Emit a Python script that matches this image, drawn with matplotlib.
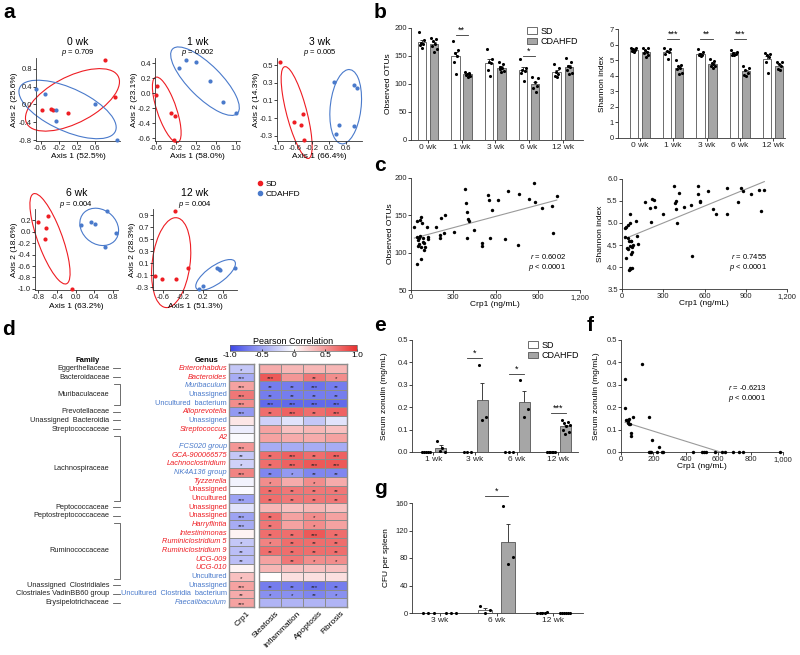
import numpy as np
import matplotlib.pyplot as plt
import matplotlib.transforms as mtrans
from matplotlib.patches import Ellipse, Rectangle
from matplotlib.lines import Line2D
from matplotlib.colors import LinearSegmentedColormap, Normalize
from matplotlib.cm import ScalarMappable

plt.rcParams['font.family'] = ['Liberation Sans', 'DejaVu Sans']
plt.rcParams['font.size'] = 6
plt.rcParams['mathtext.fontset'] = 'custom'
plt.rcParams['mathtext.it'] = 'Liberation Sans:italic'
plt.rcParams['mathtext.rm'] = 'Liberation Sans'
plt.rcParams['axes.linewidth'] = 0.6
plt.rcParams['axes.edgecolor'] = '#333333'

RED = '#ee1d23'
BLUE = '#4a7acb'
W, H = 800, 655

# ---------------- data: a (PCoA) ----------------
pcoa_weeks = ["0 wk", "1 wk", "3 wk", "6 wk", "12 wk"]
pcoa_p = ["0.709", "0.002", "0.005", "0.004", "0.004"]
pcoa_ax1 = ["52.5", "58.0", "66.4", "63.2", "51.3"]
pcoa_ax2 = ["25.6", "23.1", "14.3", "18.6", "28.3"]

sd_x = [[0.83, 1.03, -0.56, -0.36, -0.32, 0.0],
        [-0.58, -0.61, -0.30, -0.23, -0.24],
        [-0.94, -0.63, -0.45, -0.40, -0.38],
        [-0.79, -0.59, -0.62, -0.64, -0.07],
        [-0.36, -0.11, -0.76, -0.63, -0.35]]
sd_y = [[0.99, 0.16, -0.12, -0.11, -0.12, -0.19],
        [0.10, -0.02, -0.26, -0.30, -0.63],
        [0.53, -0.14, -0.18, -0.05, -0.35],
        [0.17, 0.27, 0.07, -0.12, -1.0],
        [0.96, 0.02, -0.12, -0.17, -0.16]]
cd_x = [[-0.69, -0.50, -0.27, -0.25, 0.60, 1.08],
        [-0.14, -0.01, 0.19, 0.49, 0.75, 1.01],
        [0.32, 0.78, 0.85, 0.43, 0.78, 0.37],
        [0.12, 0.32, 0.42, 0.67, 0.85, 0.63],
        [0.12, 0.21, 0.49, 0.53, 0.55, 0.84]]
cd_y = [[0.35, 0.24, -0.12, -0.37, 0.02, -0.80],
        [0.34, 0.44, 0.41, 0.16, -0.12, -0.27],
        [0.31, 0.27, 0.24, -0.18, -0.19, -0.28],
        [0.12, 0.17, 0.14, 0.37, -0.02, -0.26],
        [-0.34, -0.28, 0.02, 0.0, -0.01, 0.02]]

# ---------------- data: b (alpha diversity) ----------------
weeks_b = ["0 wk", "1 wk", "3 wk", "6 wk", "12 wk"]
otu_sd = [[192, 178, 174, 172, 170, 165], [176, 160, 155, 150, 140, 118],
          [162, 145, 140, 138, 125, 115], [145, 128, 125, 123, 120, 106],
          [135, 128, 122, 118, 115, 112]]
otu_cd = [[183, 180, 176, 172, 168, 162, 158], [121, 119, 118, 117, 116, 115, 113],
          [140, 135, 130, 128, 126, 124, 122], [112, 111, 103, 97, 92, 86],
          [147, 140, 133, 130, 125, 120, 118]]
sha_sd = [[5.8, 5.75, 5.7, 5.65, 5.6, 5.5], [5.8, 5.7, 5.6, 5.5, 5.4, 5.1],
          [5.7, 5.5, 5.4, 5.35, 5.3, 5.25], [5.65, 5.5, 5.45, 5.4, 5.35, 5.3],
          [5.45, 5.4, 5.35, 5.2, 4.9, 4.2]]
sha_cd = [[5.8, 5.75, 5.65, 5.55, 5.45, 5.35, 5.2], [5.0, 4.7, 4.6, 4.5, 4.4, 4.2, 4.1],
          [5.1, 4.95, 4.8, 4.75, 4.65, 4.6, 4.5], [4.6, 4.5, 4.35, 4.2, 4.05, 3.95],
          [4.9, 4.85, 4.75, 4.6, 4.45, 4.35]]
otu_sig = [(1, "**", 188), (3, "*", 150)]
sha_sig = [(1, "***", 6.35), (2, "**", 6.35), (3, "***", 6.35)]

# ---------------- data: c (correlation with Crp1) ----------------
crp_otu = [24, 45, 40, 48, 57, 69, 64, 76, 88, 60, 52, 64, 71, 83, 93, 95, 69, 45, 100, 112,
           119, 124, 174, 207, 214, 235, 242, 207, 302, 385, 388, 400, 405, 410, 400, 450,
           505, 505, 550, 552, 560, 575, 620, 665, 690, 760, 765, 840, 870, 880, 930, 1000,
           1005, 1035]
otu_val = [135, 143, 121, 117, 119, 148, 144, 140, 120, 112, 109, 122, 108, 114, 104, 113, 92,
           85, 108, 135, 121, 118, 135, 124, 146, 126, 150, 119, 128, 185, 167, 154, 145, 142,
           120, 130, 113, 109, 177, 170, 120, 157, 171, 118, 182, 110, 179, 172, 193, 168, 160,
           163, 127, 176]
crp_sha = [20, 30, 45, 55, 60, 25, 40, 50, 65, 70, 35, 45, 80, 55, 75, 65, 30, 60, 55, 70, 50,
           65, 110, 115, 100, 170, 205, 210, 215, 235, 240, 300, 380, 382, 390, 395, 398, 412,
           450, 505, 510, 550, 555, 565, 570, 625, 665, 685, 760, 765, 840, 865, 880, 935,
           1000, 1010, 1035]
sha_val = [4.88, 4.9, 4.95, 5.0, 5.2, 4.68, 4.65, 4.6, 4.58, 4.45, 4.43, 4.42, 4.5, 4.47,
           4.33, 4.3, 4.2, 3.98, 3.95, 3.97, 3.93, 4.6, 4.7, 4.52, 5.05, 5.47, 5.33, 5.03, 5.55,
           5.52, 5.37, 5.21, 5.85, 5.45, 5.5, 5.32, 5.0, 5.68, 5.37, 5.4, 4.25, 5.67, 5.85,
           5.47, 5.5, 5.72, 5.32, 5.2, 5.2, 5.8, 5.48, 5.8, 5.73, 5.66, 5.75, 5.27, 5.74]

# ---------------- data: d (heatmap) ----------------
families = ["Eggerthellaceae", "Bacteroidaceae", "Muribaculaceae", "Prevotellaceae",
            "Unassigned  Bacteroidia", "Streptococcaceae", "Lachnospiraceae", "Peptococcaceae",
            "Peptostreptococcaceae", "Ruminococcaceae", "Unassigned  Clostridiales",
            "Clostriales VadinBB60 group", "Erysipelotrichaceae"]
family_rows = [(0, 0), (1, 1), (2, 4), (5, 5), (6, 6), (7, 7), (8, 15), (16, 16), (17, 17),
               (18, 24), (25, 25), (26, 26), (27, 27)]
genus = ["Enterorhabdus", "Bacteroides", "Muribaculum", "Unassigned", "Uncultured  bacterium",
         "Alloprevotella", "Unassigned", "Streptococcus", "A2", "FCS020 group",
         "GCA-900066575", "Lachnoclostridium", "NK4A136 group", "Tyzzerella", "Unassigned",
         "Uncultured", "Unassigned", "Unassigned", "Harryflintia", "Intestinimonas",
         "Ruminiclostridium 5", "Ruminiclostridium 9", "UCG-009", "UCG-010", "Uncultured",
         "Unassigned", "Uncultured  Clostridia  bacterium", "Faecalibaculum"]
genus_up = "rrbbbrbrrbrrbrrrrrrrrrrrbbbb"
genus_italic = [1, 1, 1, 0, 0, 1, 0, 1, 1, 1, 1, 1, 1, 1, 0, 0, 0, 0, 1, 1, 1, 1, 1, 1, 0, 0, 0, 1]
traits = ["Steatosis", "Inflammation", "Apoptosis", "Fibrosis"]
crp1_r = [-0.3, -0.45, 0.45, 0.65, 0.55, -0.55, 0.12, -0.1, -0.03, 0.5, -0.3, -0.25, 0.6, -0.07,
          -0.02, -0.5, -0.15, -0.5, -0.45, 0.06, -0.3, -0.35, -0.35, 0.05, 0.3, 0.45, 0.4, 0.45]
steat_r = [0.4, 0.8, -0.7, -0.7, -0.8, 0.7, -0.25, 0.45, 0.45, -0.45, 0.7, 0.7, -0.65, 0.55,
           0.7, 0.7, 0.35, 0.7, 0.65, 0.7, 0.6, 0.7, 0.45, 0.35, 0.0, -0.7, -0.6, -0.4]
infl_r = [0.35, 0.5, -0.7, -0.7, -0.8, 0.75, -0.15, 0.3, 0.4, -0.45, 0.75, 0.75, -0.55, 0.4,
          0.65, 0.65, 0.3, 0.45, 0.45, 0.7, 0.7, 0.7, 0.65, 0.3, 0.15, -0.7, -0.6, -0.4]
apop_r = [0.35, 0.65, -0.75, -0.7, -0.8, 0.7, -0.3, 0.35, 0.4, -0.45, 0.7, 0.8, -0.65, 0.55,
          0.65, 0.65, 0.35, 0.55, 0.55, 0.8, 0.7, 0.7, 0.55, 0.3, 0.15, -0.75, -0.65, -0.4]
fib_r = [0.35, 0.55, -0.7, -0.7, -0.8, 0.75, -0.15, 0.3, 0.45, -0.45, 0.75, 0.8, -0.65, 0.4,
         0.65, 0.65, 0.3, 0.45, 0.45, 0.7, 0.7, 0.7, 0.55, 0.3, 0.15, -0.7, -0.6, -0.4]
crp1_sig = ['*', '***', '***', '***', '***', '***', '', '', '', '***', '**', '*', '***', '', '',
            '***', '', '***', '***', '', '*', '**', '**', '', '*', '***', '**', '***']
steat_sig = ['', '***', '**', '**', '***', '**', '', '', '', '', '**', '**', '**', '*', '**', '**',
             '', '**', '**', '**', '*', '**', '', '', '', '**', '*', '']
infl_sig = ['', '', '**', '**', '***', '***', '', '', '', '', '***', '***', '*', '', '**', '**',
            '', '', '', '**', '**', '**', '**', '', '', '**', '*', '']
apop_sig = ['', '**', '***', '**', '***', '**', '', '', '', '', '**', '***', '**', '*', '**', '**',
            '', '*', '*', '***', '**', '**', '*', '', '', '***', '**', '']
fib_sig = ['', '*', '**', '**', '***', '***', '', '', '', '', '***', '***', '**', '', '**', '**',
           '', '', '', '**', '**', '**', '*', '', '', '**', '*', '']

# ---------------- data: e, f, g ----------------
weeks_e = ["1 wk", "3 wk", "6 wk", "12 wk"]
zon_sd = [[0, 0, 0, 0, 0], [0, 0, 0], [0, 0, 0], [0, 0, 0, 0, 0, 0]]
zon_cd = [[0.05, 0.02, 0.005, 0.0], [0.39, 0.155, 0.145], [0.32, 0.19, 0.155],
          [0.145, 0.135, 0.13, 0.12, 0.115, 0.10, 0.09, 0.08]]
zon_sig = [(1, "*", 0.42), (2, "*", 0.35), (3, "***", 0.175)]

crp_zon = [25, 25, 31, 39, 47, 41, 51, 57, 45, 72, 127, 175, 60, 62, 191, 234, 170, 180, 188,
           225, 250, 262, 445, 500, 510, 525, 580, 625, 640, 690, 730, 750, 980]
zon_val = [0.327, 0.195, 0.145, 0.142, 0.148, 0.13, 0.124, 0.124, 0.138, 0.157, 0.394, 0.157,
           0.085, 0.07, 0.052, 0.022, 0, 0, 0, 0, 0, 0, 0, 0, 0, 0, 0, 0, 0, 0, 0, 0, 0]

weeks_g = ["3 wk", "6 wk", "12 wk"]
cfu_sd = [[0, 0, 0], [10, 5, 0], [0, 0, 2, 0, 0]]
cfu_cd = [[0, 0, 0], [155, 81, 72], [0, 0, 0, 0, 0, 0]]
cfu_sig = [(1, "*", 170)]

# ---------------- helpers ----------------
fig = plt.figure(figsize=(8, 6.55), dpi=100)


def box(l, t, r, b):
    return [l / W, 1 - b / H, (r - l) / W, (b - t) / H]


def ftext(x, y, s, **kw):
    fig.text(x / W, 1 - y / H, s, **kw)


def prism(ax):
    ax.spines['top'].set_visible(False)
    ax.spines['right'].set_visible(False)
    ax.tick_params(length=2, width=0.6, pad=1, labelsize=5.5, colors='#222222')


def conf_ellipse(ax, x, y, color, n_std=1.55, shrink=0.82):
    # covariance ellipse, correlation damped a little (small groups)
    x = np.asarray(x)
    y = np.asarray(y)
    cov = np.cov(x, y)
    r = shrink * cov[0, 1] / np.sqrt(cov[0, 0] * cov[1, 1])
    ell = Ellipse((0, 0), width=2 * np.sqrt(1 + r), height=2 * np.sqrt(1 - r),
                  facecolor='none', edgecolor=color, lw=0.8, clip_on=False)
    tr = mtrans.Affine2D().rotate_deg(45).scale(np.sqrt(cov[0, 0]) * n_std,
                                                np.sqrt(cov[1, 1]) * n_std)
    tr = tr.translate(x.mean(), y.mean())
    ell.set_transform(tr + ax.transData)
    ax.add_patch(ell)


def spread(n, w=0.08):
    if n == 1:
        return np.zeros(1)
    offs = np.linspace(-w, w, n)
    return offs[np.argsort((np.arange(n) * 0.618) % 1)]


def bar_panel(ax, sd_pts, cd_pts, sig, off=0.18, width=0.25, w=0.08):
    for i, (a, b) in enumerate(zip(sd_pts, cd_pts)):
        for pts, dx, fc in ((a, -off, 'white'), (b, off, '#a6a6a6')):
            m = np.mean(pts)
            se = np.std(pts, ddof=1) / np.sqrt(len(pts))
            ax.errorbar(i + dx, m, yerr=se, fmt='none', ecolor='#222222', elinewidth=0.6,
                        capsize=1.6, capthick=0.6, zorder=1)
            ax.bar(i + dx, m, width, color=fc, edgecolor='#555555', linewidth=0.6, zorder=2)
            ax.scatter(i + dx + spread(len(pts), w), pts, s=5, color='black', linewidths=0,
                       zorder=3, clip_on=False)
    for i, s, h in sig:
        ax.plot([i - off, i + off], [h, h], color='#333333', lw=0.6, clip_on=False)
        ax.text(i, h, s, ha='center', va='bottom', fontsize=6.5, clip_on=False)


def fit_line(ax, x, y):
    slope, icpt = np.polyfit(x, y, 1)
    xl = np.array([min(x), max(x)])
    ax.plot(xl, slope * xl + icpt, color='#9a9a9a', lw=0.8, zorder=1)


# ---------------- panel a ----------------
pcoa_boxes = [(36, 58, 120, 141), (155, 58, 240, 141), (277, 58, 362, 141),
              (35, 209, 118, 290), (153, 209, 237, 290)]
pcoa_lims = [((-0.70, 1.15), (-0.82, 1.04)), ((-0.63, 1.09), (-0.64, 0.47)),
             ((-1.02, 0.97), (-0.36, 0.58)), ((-0.86, 0.90), (-1.02, 0.40)),
             ((-0.81, 0.89), (-0.35, 1.0))]
pcoa_xt = [[-0.6, -0.2, 0.2, 0.6], [-0.6, -0.2, 0.2, 0.6, 1.0], [-1.0, -0.6, -0.2, 0.2, 0.6],
           [-0.8, -0.4, 0.0, 0.4, 0.8], [-0.6, -0.2, 0.2, 0.6]]
pcoa_yt = [[-0.8, -0.4, 0.0, 0.4, 0.8], [-0.6, -0.4, -0.2, 0.0, 0.2, 0.4],
           [-0.3, -0.1, 0.1, 0.3, 0.5], [-1.0, -0.8, -0.6, -0.4, -0.2, 0.0, 0.2],
           [-0.3, -0.1, 0.1, 0.3, 0.5, 0.7, 0.9]]

for k in range(5):
    l, t, r, b = pcoa_boxes[k]
    ax = fig.add_axes(box(l, t, r, b))
    prism(ax)
    ax.scatter(sd_x[k], sd_y[k], s=9, color=RED, linewidths=0, zorder=3, clip_on=False)
    ax.scatter(cd_x[k], cd_y[k], s=9, color=BLUE, linewidths=0, zorder=3, clip_on=False)
    conf_ellipse(ax, sd_x[k], sd_y[k], RED)
    conf_ellipse(ax, cd_x[k], cd_y[k], BLUE)
    ax.set_xlim(pcoa_lims[k][0])
    ax.set_ylim(pcoa_lims[k][1])
    ax.set_xticks(pcoa_xt[k])
    ax.set_yticks(pcoa_yt[k])
    ax.set_xticklabels([f"{v:.1f}" for v in pcoa_xt[k]])
    ax.set_yticklabels([f"{v:.1f}" for v in pcoa_yt[k]])
    cx = (l + r) / 2
    ftext(cx, t - 16, pcoa_weeks[k], ha='center', va='center', fontsize=7.5)
    ftext(cx, t - 5, f"$p$ = {pcoa_p[k]}", ha='center', va='center', fontsize=5.5)
    ftext(cx, b + 16, f"Axis 1 ({pcoa_ax1[k]}%)", ha='center', va='center', fontsize=6)
    ftext(l - 21, (t + b) / 2, f"Axis 2 ({pcoa_ax2[k]}%)", ha='center', va='center',
          rotation=90, fontsize=6)

fig.legend(handles=[Line2D([], [], marker='o', ls='', color=RED, markersize=3, label='SD'),
                    Line2D([], [], marker='o', ls='', color=BLUE, markersize=3, label='CDAHFD')],
           loc='upper left', bbox_to_anchor=(252 / W, 1 - 176 / H), frameon=False, fontsize=6,
           handlelength=0.8, handletextpad=0.3, labelspacing=0.25, borderpad=0)

# ---------------- panel b ----------------
ax = fig.add_axes(box(411, 28, 583, 140))
prism(ax)
bar_panel(ax, otu_sd, otu_cd, otu_sig)
ax.set_xlim(-0.5, 4.6)
ax.set_ylim(0, 200)
ax.set_yticks([0, 50, 100, 150, 200])
ax.set_xticks(range(5))
ax.set_xticklabels(weeks_b, fontsize=6)
ftext(389, 84, "Observed OTUs", rotation=90, ha='center', va='center', fontsize=6)
ax.legend(handles=[Rectangle((0, 0), 1, 1, fc='white', ec='#555555', lw=0.6, label='SD'),
                   Rectangle((0, 0), 1, 1, fc='#a6a6a6', ec='#555555', lw=0.6, label='CDAHFD')],
          loc='upper left', bbox_to_anchor=(522 / W, 1 - 22 / H), bbox_transform=fig.transFigure,
          frameon=False, fontsize=6.5, handlelength=1.2, handleheight=0.7, handletextpad=0.3,
          labelspacing=0.15, borderpad=0)

ax = fig.add_axes(box(618, 29, 785, 138))
prism(ax)
bar_panel(ax, sha_sd, sha_cd, sha_sig)
ax.set_xlim(-0.65, 4.35)
ax.set_ylim(0, 7)
ax.set_yticks(range(8))
ax.set_xticks(range(5))
ax.set_xticklabels(weeks_b, fontsize=6)
ftext(602, 84, "Shannon index", rotation=90, ha='center', va='center', fontsize=6)

# ---------------- panel c ----------------
ax = fig.add_axes(box(411, 178, 580, 290))
prism(ax)
ax.scatter(crp_otu, otu_val, s=6, color='black', linewidths=0, zorder=3, clip_on=False)
fit_line(ax, crp_otu, otu_val)
ax.set_xlim(0, 1200)
ax.set_ylim(50, 200)
ax.set_yticks([50, 100, 150, 200])
ax.set_xticks([0, 300, 600, 900, 1200])
ax.set_xticklabels(["0", "300", "600", "900", "1,200"])
ax.text(0.92, 0.34, "$r$ = 0.6002\n$p$ < 0.0001", transform=ax.transAxes, ha='right',
        va='top', fontsize=5.5, linespacing=1.2)
ftext(495, 305, "Crp1 (ng/mL)", ha='center', va='center', fontsize=6)
ftext(390, 234, "Observed OTUs", rotation=90, ha='center', va='center', fontsize=6)

ax = fig.add_axes(box(622, 179, 787, 289))
prism(ax)
ax.scatter(crp_sha, sha_val, s=6, color='black', linewidths=0, zorder=3, clip_on=False)
fit_line(ax, crp_sha, sha_val)
ax.set_xlim(0, 1200)
ax.set_ylim(3.5, 6.0)
ax.set_yticks([3.5, 4.0, 4.5, 5.0, 5.5, 6.0])
ax.set_yticklabels(["3.5", "4.0", "4.5", "5.0", "5.5", "6.0"])
ax.set_xticks([0, 300, 600, 900, 1200])
ax.set_xticklabels(["0", "300", "600", "900", "1,200"])
ax.text(0.88, 0.34, "$r$ = 0.7455\n$p$ < 0.0001", transform=ax.transAxes, ha='right',
        va='top', fontsize=5.5, linespacing=1.2)
ftext(704, 304, "Crp1 (ng/mL)", ha='center', va='center', fontsize=6)
ftext(600, 234, "Shannon index", rotation=90, ha='center', va='center', fontsize=6)

# ---------------- panel d ----------------
cmap = LinearSegmentedColormap.from_list('pc', ['#3b46e6', '#ffffff', '#e8302f'])
top, bot = 364, 607
n = len(genus)
axc = fig.add_axes(box(229, top, 254, bot))
axm = fig.add_axes(box(259, top, 347, bot))
axc.pcolormesh(np.array(crp1_r).reshape(-1, 1), cmap=cmap, vmin=-1, vmax=1,
               edgecolors='#8c8c8c', linewidth=0.5)
mat = np.column_stack([steat_r, infl_r, apop_r, fib_r])
axm.pcolormesh(mat, cmap=cmap, vmin=-1, vmax=1, edgecolors='#8c8c8c', linewidth=0.5)
sig_cols = [steat_sig, infl_sig, apop_sig, fib_sig]
for a in (axc, axm):
    a.set_ylim(n, 0)
    a.set_xticks([])
    a.set_yticks([])
    for s in a.spines.values():
        s.set_color('#8c8c8c')
        s.set_linewidth(1.0)
for i in range(n):
    if crp1_sig[i]:
        axc.text(0.5, i + 0.72, crp1_sig[i], ha='center', va='center', fontsize=4.5,
                 color='#222222')
    for j in range(4):
        if sig_cols[j][i]:
            axm.text(j + 0.5, i + 0.72, sig_cols[j][i], ha='center', va='center',
                     fontsize=4.5, color='#222222')

trans = mtrans.blended_transform_factory(fig.transFigure, axm.transData)
for i, g in enumerate(genus):
    axm.text(227 / W, i + 0.5, g, transform=trans, ha='right', va='center', fontsize=5.3,
             color=RED if genus_up[i] == 'r' else BLUE,
             style='italic' if genus_italic[i] else 'normal')
for fam, (r0, r1) in zip(families, family_rows):
    axm.text(109.5 / W, (r0 + r1) / 2 + 0.5, fam, transform=trans, ha='right', va='center',
             fontsize=5.3, color='#222222')
    if r0 == r1:
        axm.plot([113 / W, 119.5 / W], [r0 + 0.5, r0 + 0.5], transform=trans, color='#555555',
                 lw=0.6, clip_on=False)
    else:
        y0, y1 = r0 + 0.35, r1 + 0.75
        axm.plot([114 / W, 119.5 / W, 119.5 / W, 114 / W], [y0, y0, y1, y1], transform=trans,
                 color='#555555', lw=0.6, clip_on=False)
ftext(88, 360, "Family", ha='center', va='center', fontsize=5.5, fontweight='bold')
ftext(207, 360, "Genus", ha='center', va='center', fontsize=5.5, fontweight='bold')

cols = ["Crp1"] + traits
col_x = [241.5] + [259 + 11 * (2 * j + 1) for j in range(4)]
for c, x in zip(cols, col_x):
    ftext(x + 5, 610, c, rotation=45, ha='right', va='top', rotation_mode='anchor', fontsize=6)

cax = fig.add_axes(box(230, 345, 357, 351))
cb = fig.colorbar(ScalarMappable(norm=Normalize(-1, 1), cmap=cmap), cax=cax,
                  orientation='horizontal', ticks=[-1, -0.5, 0, 0.5, 1])
cb.ax.set_xticklabels(["-1.0", "-0.5", "0", "0.5", "1.0"])
cb.ax.tick_params(length=1.5, width=0.5, pad=0.5, labelsize=6, direction='in')
cb.outline.set_linewidth(0.5)
cb.outline.set_edgecolor('#666666')
ftext(293, 341, "Pearson Correlation", ha='center', va='center', fontsize=6.5)

# ---------------- panel e ----------------
ax = fig.add_axes(box(412, 340, 578, 452))
prism(ax)
bar_panel(ax, zon_sd, zon_cd, zon_sig, off=0.18, width=0.26, w=0.09)
ax.set_xlim(-0.51, 3.47)
ax.set_ylim(0, 0.5)
ax.set_yticks([0, 0.1, 0.2, 0.3, 0.4, 0.5])
ax.set_yticklabels(["0.0", "0.1", "0.2", "0.3", "0.4", "0.5"])
ax.set_xticks(range(4))
ax.set_xticklabels(weeks_e, fontsize=6)
ftext(385, 396, "Serum zonulin (mg/mL)", rotation=90, ha='center', va='center', fontsize=6)
ax.legend(handles=[Rectangle((0, 0), 1, 1, fc='white', ec='#555555', lw=0.6, label='SD'),
                   Rectangle((0, 0), 1, 1, fc='#a6a6a6', ec='#555555', lw=0.6, label='CDAHFD')],
          loc='upper left', bbox_to_anchor=(523 / W, 1 - 336 / H), bbox_transform=fig.transFigure,
          frameon=False, fontsize=6.5, handlelength=1.2, handleheight=0.7, handletextpad=0.3,
          labelspacing=0.15, borderpad=0)

# ---------------- panel f ----------------
ax = fig.add_axes(box(621, 340, 783, 452))
prism(ax)
ax.scatter(crp_zon, zon_val, s=6, color='black', linewidths=0, zorder=3, clip_on=False)
fit_line(ax, crp_zon, zon_val)
ax.set_xlim(0, 1000)
ax.set_ylim(0, 0.5)
ax.set_yticks([0, 0.1, 0.2, 0.3, 0.4, 0.5])
ax.set_yticklabels(["0.0", "0.1", "0.2", "0.3", "0.4", "0.5"])
ax.set_xticks([0, 200, 400, 600, 800, 1000])
ax.set_xticklabels(["0", "200", "400", "600", "800", "1,000"])
ax.text(0.66, 0.62, "$r$ = -0.6213\n$p$ < 0.0001", transform=ax.transAxes, ha='left',
        va='top', fontsize=5.5, linespacing=1.2)
ftext(702, 467, "Crp1 (ng/mL)", ha='center', va='center', fontsize=6)
ftext(597, 396, "Serum zonulin (mg/mL)", rotation=90, ha='center', va='center', fontsize=6)

# ---------------- panel g ----------------
ax = fig.add_axes(box(412, 503, 583, 613))
prism(ax)
bar_panel(ax, cfu_sd, cfu_cd, cfu_sig, off=0.2, width=0.25, w=0.09)
ax.set_xlim(-0.49, 2.52)
ax.set_ylim(0, 160)
ax.set_yticks([0, 40, 80, 120, 160])
ax.set_xticks(range(3))
ax.set_xticklabels(weeks_g, fontsize=6)
ftext(387, 558, "CFU per spleen", rotation=90, ha='center', va='center', fontsize=6)

# ---------------- panel letters ----------------
for s, x, y in [("a", 3, 18), ("b", 374, 18), ("c", 374, 171), ("d", 2, 335),
                ("e", 374, 331), ("f", 587, 331), ("g", 374, 494)]:
    ftext(x, y, s, fontsize=15, fontweight='bold', va='baseline', ha='left')

fig.savefig("out.png", dpi=100)
